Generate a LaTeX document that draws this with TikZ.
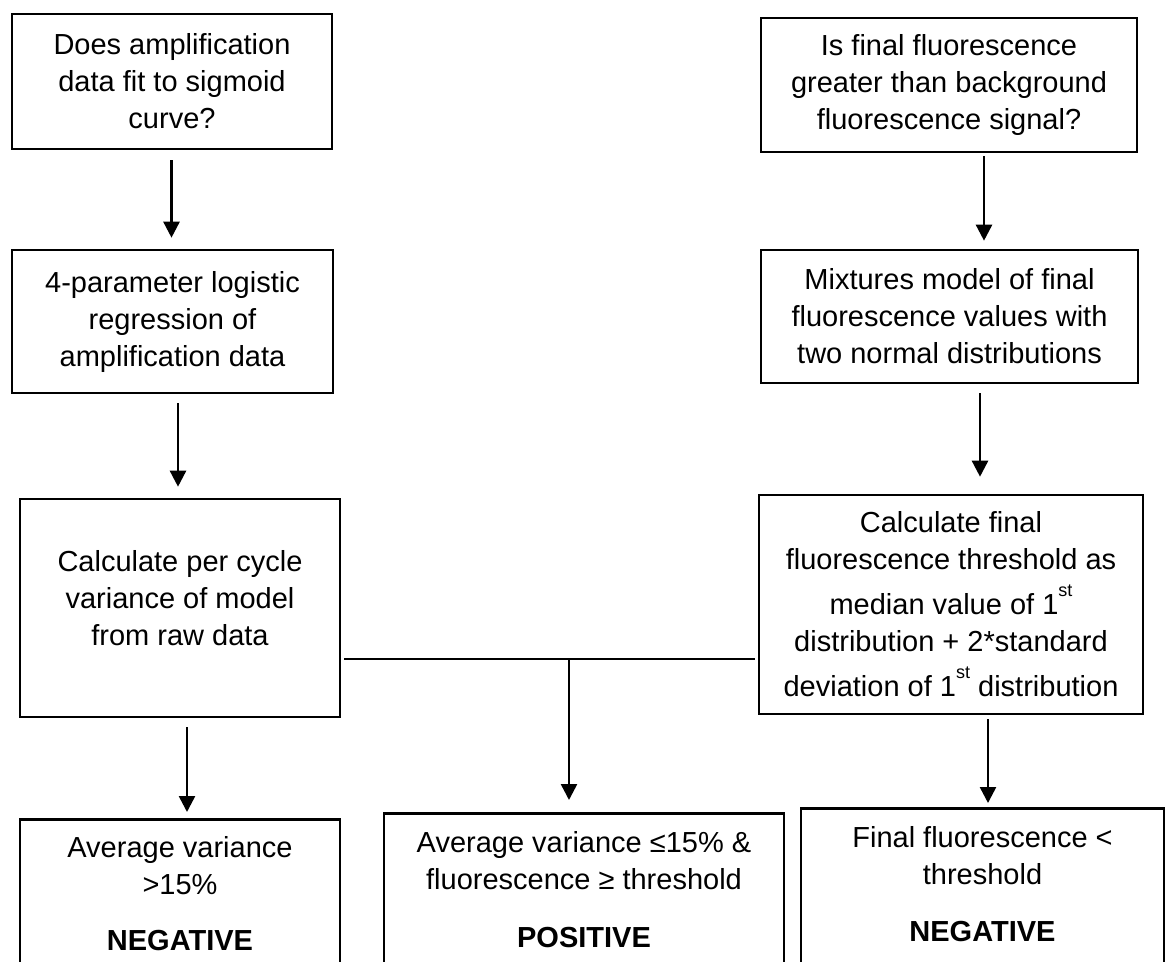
\documentclass[tikz,border=0pt]{standalone}
\usepackage{fontspec}
\setmainfont{Liberation Sans}
\usetikzlibrary{arrows.meta}
\newcommand\stsup{\raisebox{18pt}{\fontsize{18}{18}\selectfont st}}
\begin{document}
\begin{tikzpicture}[x=1pt,y=-1pt,
  box/.style={draw, line width=2.6pt, inner sep=0pt, align=center, font=\fontsize{29}{37}\selectfont},
  txt/.style={align=center, inner sep=0pt, font=\fontsize{29}{37}\selectfont},
  arr/.style={line width=2.5pt, -{Triangle[length=16pt,width=16pt]}},
  link/.style={line width=1.3pt}]
\useasboundingbox (0,0) rectangle (1166,961);
\clip (0,0) rectangle (1166,961);
% left column
\node[box, minimum width=320pt, minimum height=135pt] (b1) at (172,81.5) {Does amplification\\data fit to sigmoid\\curve?};
\node[box, minimum width=321pt, minimum height=143pt] (b2) at (172.5,321.5) {4-parameter logistic\\regression of\\amplification data};
\node[box, minimum width=320pt, minimum height=218pt] (b3) at (180,608) {};
\node[txt] (t3) at ([yshift=10pt]b3.center) {Calculate per cycle\\variance of model\\from raw data};
% right column
\node[box, minimum width=376pt, minimum height=134pt] (b4) at (949,85) {Is final fluorescence\\greater than background\\fluorescence signal?};
\node[box, minimum width=377pt, minimum height=133pt] (b5) at (949.5,316.5) {Mixtures model of final\\fluorescence values with\\two normal distributions};
\node[box, minimum width=384pt, minimum height=219pt] (b6) at (951,604.5) {Calculate final\\fluorescence threshold as\\[8pt]median value of 1\stsup\\distribution + 2*standard\\[8pt]deviation of 1\stsup{} distribution};
% bottom outcomes
\node[box, minimum width=320pt, minimum height=200pt, anchor=north] (b7) at (180,818) {};
\node[txt, anchor=north] (t7) at ([yshift=-18pt]b7.north) {Average variance\\>15\%\\[19pt]\textbf{NEGATIVE}};
\node[box, minimum width=400pt, minimum height=200pt, anchor=north] (b8) at (584,812) {};
\node[txt, anchor=north] (t8) at ([yshift=-19pt]b8.north) {Average variance ≤15\% \&\\fluorescence ≥ threshold\\[21pt]\textbf{POSITIVE}};
\node[box, minimum width=363pt, minimum height=200pt, anchor=north] (b9) at (982.5,807) {};
\node[txt, anchor=north] (t9) at ([yshift=-19pt]b9.north) {Final fluorescence <\\threshold\\[20pt]\textbf{NEGATIVE}};
% connectors
\draw[arr] ([xshift=-0.5pt,yshift=-10pt]b1.south) -- ([xshift=-1pt,yshift=11pt]b2.north);
\draw[arr] ([xshift=5.5pt,yshift=-9pt]b2.south) -- ([xshift=-2pt,yshift=11pt]b3.north);
\draw[arr] ([xshift=7pt,yshift=-9pt]b3.south) -- ([xshift=7pt,yshift=6pt]b7.north);
\draw[arr] ([xshift=35pt,yshift=-3pt]b4.south) -- ([xshift=34.5pt,yshift=8pt]b5.north);
\draw[arr] ([xshift=30.5pt,yshift=-9pt]b5.south) -- ([xshift=29pt,yshift=17pt]b6.north);
\draw[arr] ([xshift=37pt,yshift=-4pt]b6.south) -- ([xshift=5.5pt,yshift=4pt]b9.north);
\coordinate (j) at (569,659);
\draw[link, shorten <=3pt, shorten >=3pt] (j -| b3.east) -- (j -| b6.west);
\draw[arr] (j) -- ([yshift=12pt]j |- b8.north);
\end{tikzpicture}
\end{document}
